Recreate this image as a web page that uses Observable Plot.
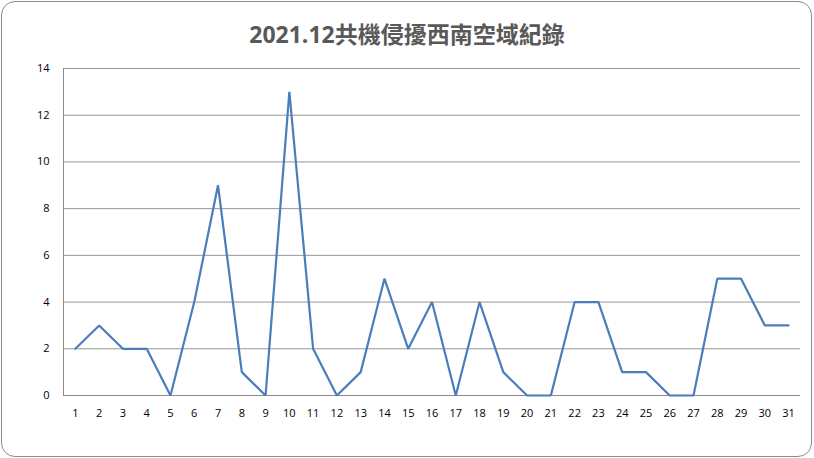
<!DOCTYPE html>
<html>
<head>
<meta charset="utf-8">
<script src="https://cdn.jsdelivr.net/npm/d3@7"></script>
<script src="https://cdn.jsdelivr.net/npm/@observablehq/plot@0.6"></script>
<style>
  html, body { margin: 0; padding: 0; background: #fff; }
  #wrap { position: relative; width: 814px; height: 458px; overflow: hidden; }
  #frame { position: absolute; left: 1px; top: 1px; width: 809px; height: 454px;
           border: 1px solid #8c8c8c; border-radius: 14px; box-sizing: content-box; }
  #title { position: absolute; left: 0; width: 814px; top: 16px; text-align: center;
           font-family: "Open Sans", "Noto Sans CJK TC", sans-serif; font-weight: bold;
           font-size: 23px; color: #595959; letter-spacing: 0px; }
  #chart { position: absolute; left: 0; top: 0; }
</style>
</head>
<body>
<div id="wrap">
  <div id="chart"></div>
  <div id="frame"></div>
  <div id="title">2021.12共機侵擾西南空域紀錄</div>
</div>
<script>
const days = [1,2,3,4,5,6,7,8,9,10,11,12,13,14,15,16,17,18,19,20,21,22,23,24,25,26,27,28,29,30,31];
const counts = [2,3,2,2,0,4,9,1,0,13,2,0,1,5,2,4,0,4,1,0,0,4,4,1,1,0,0,5,5,3,3];
const yTicks = [0,2,4,6,8,10,12,14];

const data = days.map((d, i) => ({day: d, count: counts[i]}));
const xMin = days[0] - 0.5, xMax = days[days.length - 1] + 0.5;

const chart = Plot.plot({
  width: 814,
  height: 458,
  marginLeft: 63,
  marginRight: 14,
  marginTop: 68,
  marginBottom: 63,
  style: {fontFamily: "'Open Sans', 'DejaVu Sans', sans-serif", fontSize: "11px", color: "#000", background: "transparent"},
  x: {type: "linear", domain: [xMin, xMax], ticks: days, tickFormat: d => String(d), label: null, tickSize: 0, tickPadding: 14},
  y: {domain: [0, 14], ticks: yTicks, label: null, tickSize: 0, tickPadding: 14},
  marks: [
    Plot.gridY(yTicks, {stroke: "#969696", strokeOpacity: 1, strokeWidth: 1}),
    Plot.ruleX([xMin], {stroke: "#8c8c8c", strokeWidth: 1, y1: 0, y2: 14}),
    Plot.ruleY([0], {stroke: "#8c8c8c", strokeWidth: 1}),
    Plot.line(data, {x: "day", y: "count", stroke: "#4a7ebb", strokeWidth: 2.2, strokeLinejoin: "miter"})
  ]
});
document.getElementById("chart").appendChild(chart);
</script>
</body>
</html>
